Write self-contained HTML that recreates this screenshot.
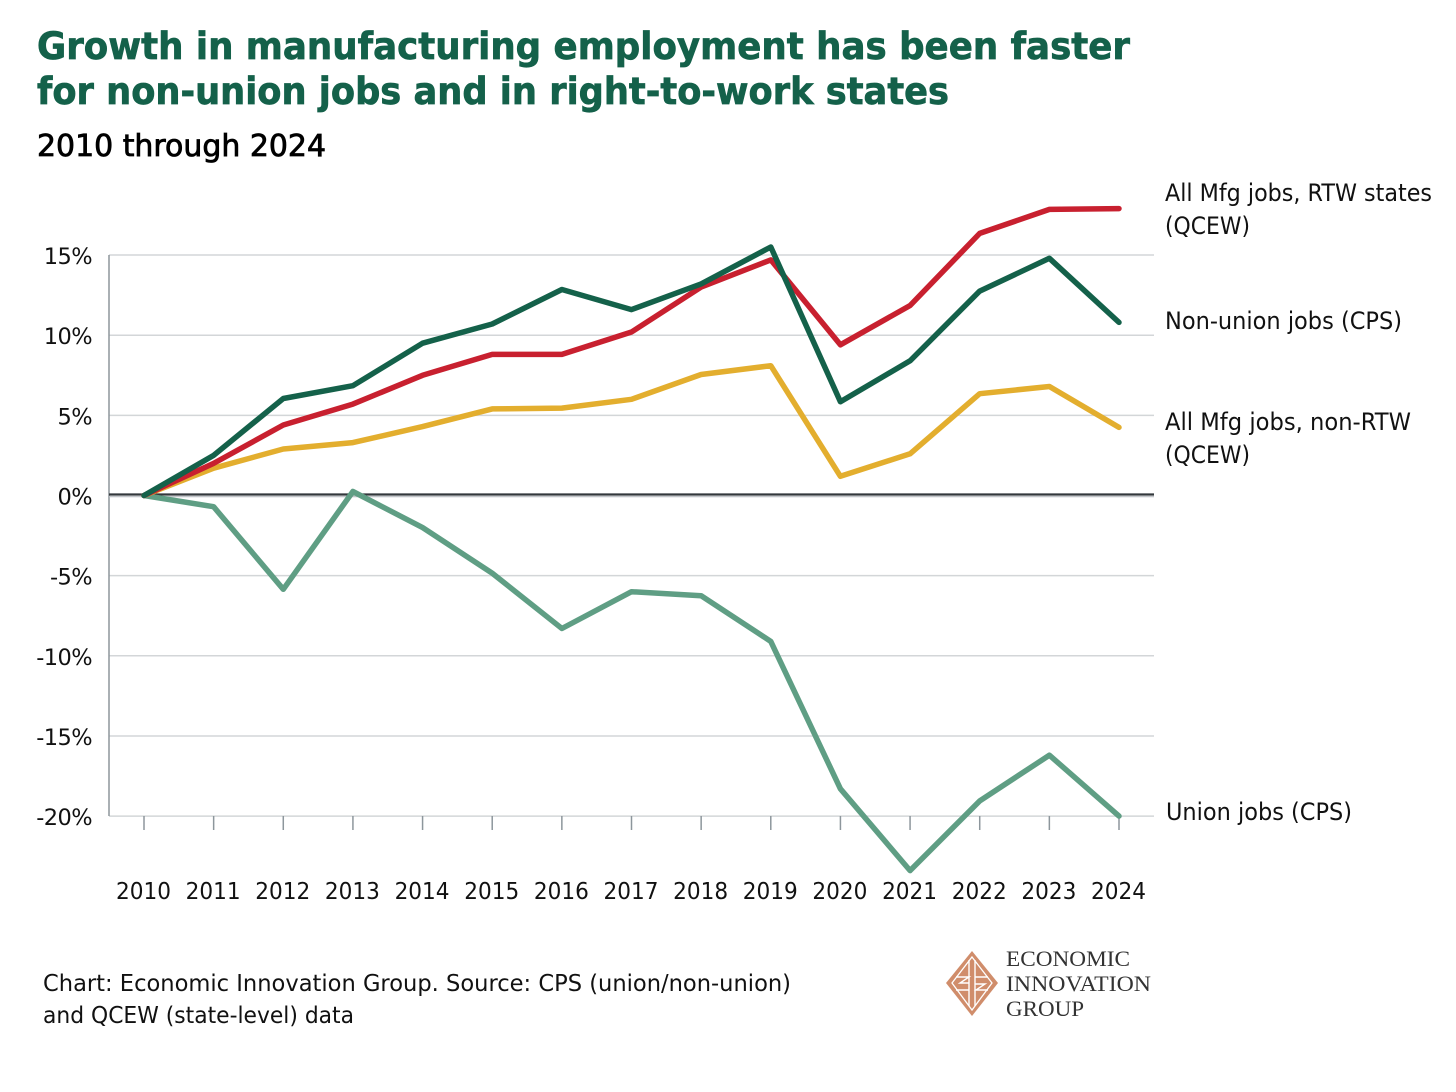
<!DOCTYPE html>
<html lang="en">
<head>
<meta charset="utf-8">
<title>Growth in manufacturing employment</title>
<style>
html,body{margin:0;padding:0;background:#fff;}
svg{display:block;}
text{font-family:"DejaVu Sans","Liberation Sans",sans-serif;fill:#111;}
</style>
</head>
<body>
<svg id="chart" xmlns="http://www.w3.org/2000/svg" width="1456" height="1092" viewBox="0 0 1456 1092">
  <rect width="1456" height="1092" fill="#fff"/>
  <text x="37" y="59" font-size="37" font-weight="700" style="fill:#14614a;stroke:#14614a;stroke-width:0.7" textLength="1093" lengthAdjust="spacingAndGlyphs">Growth in manufacturing employment has been faster</text>
  <text x="37" y="104" font-size="37" font-weight="700" style="fill:#14614a;stroke:#14614a;stroke-width:0.7" textLength="912" lengthAdjust="spacingAndGlyphs">for non-union jobs and in right-to-work states</text>
  <text x="37" y="156" font-size="30" textLength="289" lengthAdjust="spacingAndGlyphs" style="fill:#000;stroke:#000;stroke-width:0.8">2010 through 2024</text>
  <g id="gridlines"></g>
  <line x1="109" y1="255" x2="109" y2="816" stroke="#8d969c" stroke-width="1.5"/>
  <g id="yticks"></g>
  <line x1="109" y1="494.5" x2="1154" y2="494.5" stroke="#33383c" stroke-width="2.2"/>
  <line x1="109" y1="496.7" x2="1154" y2="496.7" stroke="#b9bec2" stroke-width="1.2"/>
  <g id="xticks"></g>
  <g id="series"></g>
  <text x="1165" y="201" font-size="24" textLength="267" lengthAdjust="spacingAndGlyphs">All Mfg jobs, RTW states</text>
  <text x="1165" y="234" font-size="24" textLength="85" lengthAdjust="spacingAndGlyphs">(QCEW)</text>
  <text x="1165" y="329" font-size="24" textLength="237" lengthAdjust="spacingAndGlyphs">Non-union jobs (CPS)</text>
  <text x="1165" y="430" font-size="24" textLength="246" lengthAdjust="spacingAndGlyphs">All Mfg jobs, non-RTW</text>
  <text x="1165" y="463" font-size="24" textLength="85" lengthAdjust="spacingAndGlyphs">(QCEW)</text>
  <text x="1166" y="820" font-size="24" textLength="186" lengthAdjust="spacingAndGlyphs">Union jobs (CPS)</text>
  <text x="43" y="991" font-size="23" textLength="748" lengthAdjust="spacingAndGlyphs">Chart: Economic Innovation Group. Source: CPS (union/non-union)</text>
  <text x="43" y="1023" font-size="23" textLength="311" lengthAdjust="spacingAndGlyphs">and QCEW (state-level) data</text>
  <g>
    <polygon points="972,951 998,983 972,1016 946,983" fill="#d08d6b"/>
    <polygon points="972,957 992,983 972,1010 952,983" fill="none" stroke="#fff" stroke-width="1.3"/>
    <path d="M969 960V1006M975 960V1006M956 977H969L960 983H969M956 990H969M988 977H975M975 984H985L976 990H988" fill="none" stroke="#fff" stroke-width="1.4"/>
    <text x="1006" y="966" font-size="22" textLength="124" lengthAdjust="spacingAndGlyphs" style="font-family:'Liberation Serif',serif;fill:#333">ECONOMIC</text>
    <text x="1006" y="991" font-size="22" textLength="145" lengthAdjust="spacingAndGlyphs" style="font-family:'Liberation Serif',serif;fill:#333">INNOVATION</text>
    <text x="1006" y="1016" font-size="22" textLength="78" lengthAdjust="spacingAndGlyphs" style="font-family:'Liberation Serif',serif;fill:#333">GROUP</text>
  </g>
</svg>
<script>
const years = [2010,2011,2012,2013,2014,2015,2016,2017,2018,2019,2020,2021,2022,2023,2024];
const yTicks = [15,10,5,0,-5,-10,-15,-20];
const unionJobs = [0,-0.7,-5.85,0.25,-2.0,-4.85,-8.3,-6.0,-6.25,-9.1,-18.3,-23.4,-19.05,-16.2,-20.0];
const nonRtwJobs = [0,1.7,2.9,3.3,4.3,5.4,5.45,6.0,7.55,8.1,1.2,2.6,6.35,6.8,4.25];
const rtwJobs = [0,2.0,4.4,5.7,7.5,8.8,8.8,10.2,13.0,14.7,9.4,11.85,16.35,17.85,17.9];
const nonUnionJobs = [0,2.5,6.05,6.85,9.5,10.7,12.85,11.6,13.2,15.5,5.85,8.4,12.75,14.8,10.8];

const NS = 'http://www.w3.org/2000/svg';
const xScale = i => 144 + i * (1119 - 144) / (years.length - 1);
const yScale = v => 495.5 - v * 16.03;

function make(tag, attrs, parent, text) {
  const el = document.createElementNS(NS, tag);
  for (const k in attrs) el.setAttribute(k, attrs[k]);
  if (text !== undefined) el.textContent = text;
  parent.appendChild(el);
  return el;
}

const gridGroup = document.getElementById('gridlines');
const yGroup = document.getElementById('yticks');
yTicks.forEach(t => {
  const y = yScale(t);
  if (t !== 0) {
    const g = make('line', {x1:109, x2:1154, y1:y, y2:y, stroke:'#d3d6d8', 'stroke-width':1.5}, gridGroup);
    
    
  }
  const lab = make('text', {x:92, y:y + 9, 'font-size':22.5, 'text-anchor':'end', style:'letter-spacing:-0.6px'}, yGroup, t + '%');
  
  
});

const xGroup = document.getElementById('xticks');
years.forEach((yr, i) => {
  const x = xScale(i);
  const tick = make('line', {x1:x, x2:x, y1:816, y2:830, stroke:'#8d969c', 'stroke-width':1.5}, xGroup);
  
  
  const lab = make('text', {x:x - 0.5, y:899, 'font-size':23.5, 'text-anchor':'middle', textLength:55, lengthAdjust:'spacingAndGlyphs'}, xGroup, yr);
  
  
});

const seriesGroup = document.getElementById('series');
function drawLine(values, colour, name) {
  const pts = values.map((v, i) => xScale(i).toFixed(1) + ',' + yScale(v).toFixed(1)).join(' ');
  const line = make('polyline', {points:pts, fill:'none', stroke:colour, 'stroke-width':5.5, 'stroke-linejoin':'round', 'stroke-linecap':'round'}, seriesGroup);
  
  
}
drawLine(unionJobs, '#5f9e84', 'series-union-jobs');
drawLine(nonRtwJobs, '#e3ae2e', 'series-non-rtw-jobs');
drawLine(rtwJobs, '#c8202f', 'series-rtw-jobs');
drawLine(nonUnionJobs, '#14614a', 'series-non-union-jobs');
</script>
</body>
</html>
